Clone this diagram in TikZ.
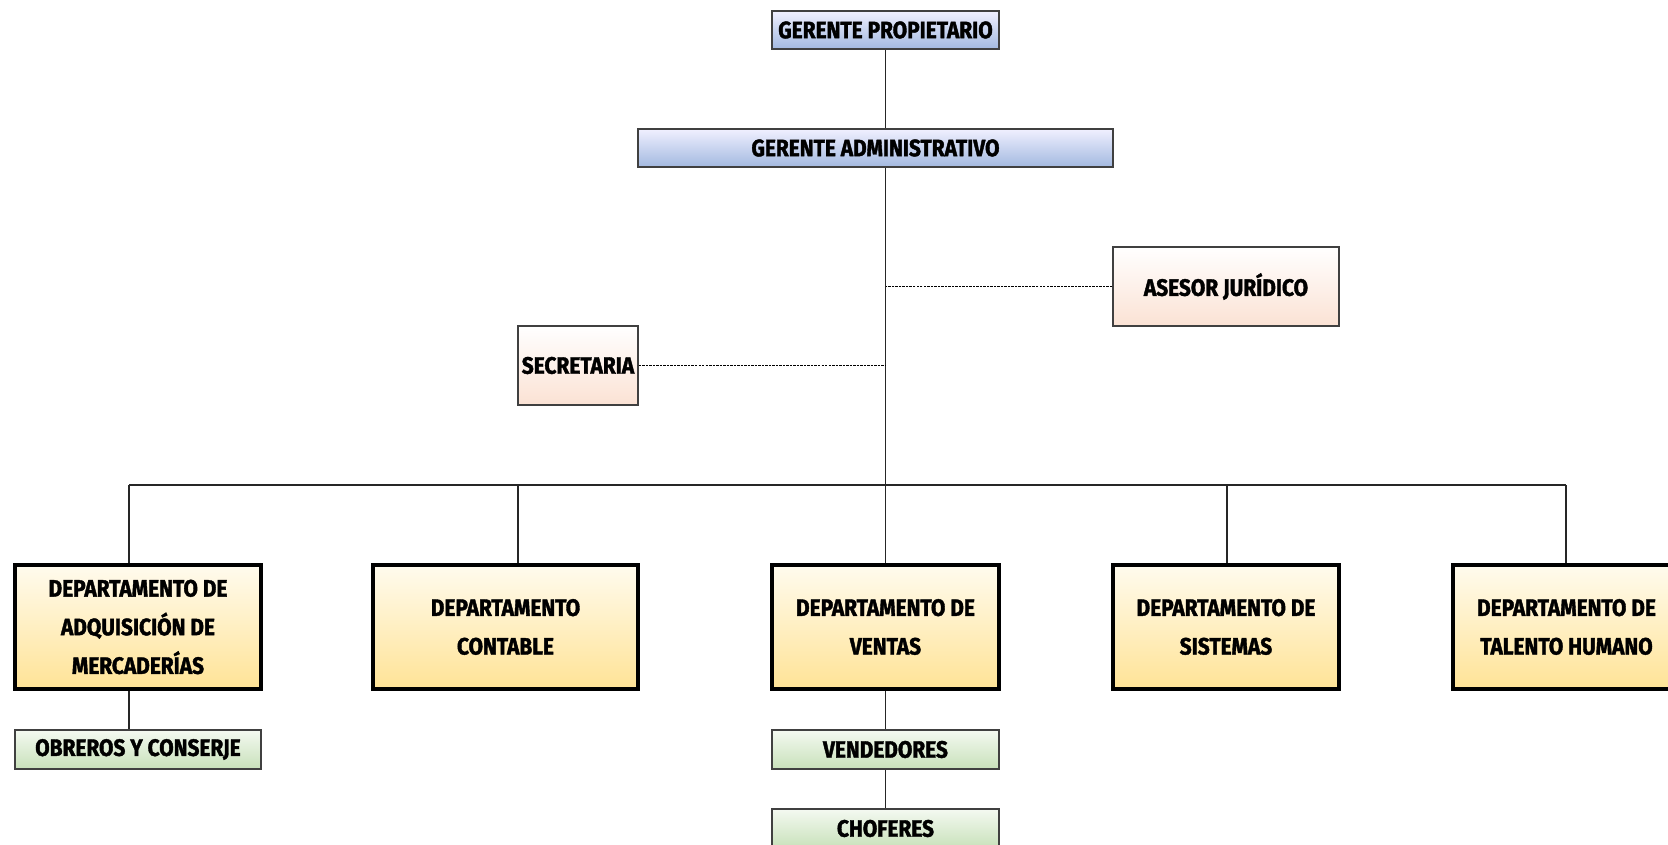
\documentclass[tikz,border=0pt]{standalone}
\usepackage{fontspec}
\newfontfamily\orgfont{Fira Sans}[FakeStretch=0.88, BoldFeatures={FakeBold=1.6}]
\begin{document}
\begin{tikzpicture}[x=0.02cm,y=-0.02cm,
  lbl/.style={font=\orgfont\bfseries\fontsize{13.5}{22}\selectfont, align=center, inner sep=0pt},
  bluebox/.style={lbl, draw=black!75, line width=0.9pt, top color=blue!6, bottom color={rgb,255:red,163;green,185;blue,224}},
  peachbox/.style={lbl, draw=black!75, line width=0.9pt, top color=white, bottom color={rgb,255:red,251;green,226;blue,212}},
  deptbox/.style={lbl, draw=black, line width=1.8pt, top color={rgb,255:red,255;green,251;blue,238}, bottom color={rgb,255:red,255;green,227;blue,150}, minimum height=2.48cm},
  greenbox/.style={lbl, draw=black!75, line width=0.9pt, top color={rgb,255:red,244;green,249;blue,241}, bottom color={rgb,255:red,200;green,225;blue,186}, minimum height=0.78cm},
  conn/.style={line width=0.85pt, black!85},
  dconn/.style={line width=0.9pt, black, dash pattern=on 1.4pt off 0.6pt}]
\useasboundingbox (0,0) rectangle (1668,845);
% top
\node[bluebox, minimum width=4.54cm, minimum height=0.76cm] (gp) at (885.5,30) {GERENTE PROPIETARIO};
\node[bluebox, minimum width=9.5cm, minimum height=0.76cm] (ga) at (875.5,148) {GERENTE ADMINISTRATIVO};
\node[peachbox, minimum width=4.52cm, minimum height=1.58cm] (as) at (1226,286.5) {ASESOR JURÍDICO};
\node[peachbox, minimum width=2.4cm, minimum height=1.58cm] (se) at (578,365.5) {SECRETARIA};
% departments
\node[deptbox, minimum width=4.92cm] (d1) at (138,627) {DEPARTAMENTO DE\\ADQUISICIÓN DE\\MERCADERÍAS};
\node[deptbox, minimum width=5.3cm] (d2) at (505.5,627) {DEPARTAMENTO\\CONTABLE};
\node[deptbox, minimum width=4.54cm] (d3) at (885.5,627) {DEPARTAMENTO DE\\VENTAS};
\node[deptbox, minimum width=4.52cm] (d4) at (1226,627) {DEPARTAMENTO DE\\SISTEMAS};
\node[deptbox, minimum width=4.54cm] (d5) at (1566.5,627) {DEPARTAMENTO DE\\TALENTO HUMANO};
% lower
\node[greenbox, minimum width=4.92cm] (ob) at (138,749.5) {OBREROS Y CONSERJE};
\node[greenbox, minimum width=4.54cm] (ve) at (885.5,749.5) {VENDEDORES};
\node[greenbox, minimum width=4.54cm] (ch) at (885.5,828.5) {CHOFERES};
% bus coordinates
\coordinate (b1) at (129,485);
\coordinate (b2) at (518,485);
\coordinate (b3) at (885.5,485);
\coordinate (b4) at (1227,485);
\coordinate (b5) at (1566,485);
% connectors
\draw[conn] (gp.south) -- (gp.south |- ga.north);
\draw[conn] (gp.south |- ga.south) -- (d3.north);
\draw[conn] (b1) -- (b5);
\draw[conn] (b1) -- (b1 |- d1.north);
\draw[conn] (b2) -- (b2 |- d2.north);
\draw[conn] (b4) -- (b4 |- d4.north);
\draw[conn] (b5) -- (b5 |- d5.north);
\draw[dconn] (as.west) -- (as.west -| gp.south);
\draw[dconn] (se.east) -- (se.east -| gp.south);
\draw[conn] (b1 |- d1.south) -- (b1 |- ob.north);
\draw[conn] (d3.south) -- (ve.north);
\draw[conn] (ve.south) -- (ch.north);
\end{tikzpicture}
\end{document}
